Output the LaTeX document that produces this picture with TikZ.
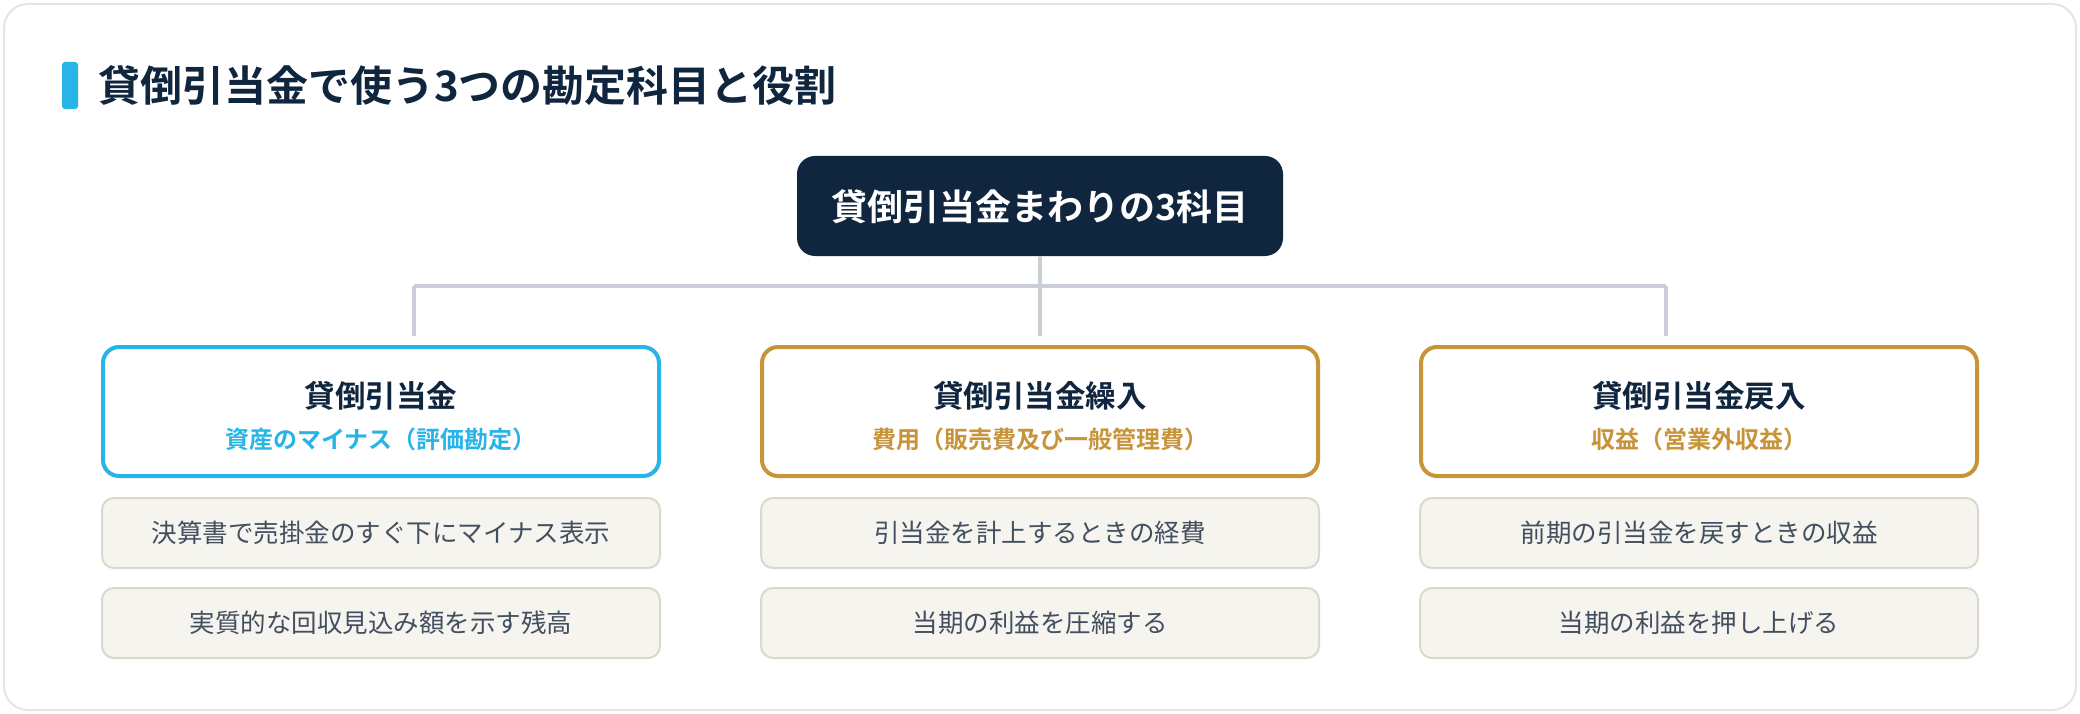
\documentclass[tikz,border=0pt]{standalone}
\usepackage{fontspec}
\setmainfont{Noto Sans CJK JP}[BoldFont={Noto Sans CJK JP Bold}]
\definecolor{navy}{HTML}{10263F}
\definecolor{sky}{HTML}{27B4E6}
\definecolor{gold}{HTML}{C8943A}
\definecolor{linkgray}{HTML}{C9CED8}
\definecolor{subfill}{HTML}{F5F4EF}
\definecolor{subline}{HTML}{DDD9CA}
\definecolor{subtext}{HTML}{434F5E}
\definecolor{cardline}{HTML}{E7E4D9}
\begin{document}
\begin{tikzpicture}[
        x = 1pt, y = -1pt,
        every node/.style = {inner sep = 0pt},
        headbox/.style = {fill = navy, rounded corners = 18pt, minimum width = 486pt, minimum height = 100pt},
        mainbox/.style = {draw = #1, line width = 4pt, fill = white, rounded corners = 16pt, minimum width = 556pt, minimum height = 129pt},
        subbox/.style = {draw = subline, line width = 2pt, fill = subfill, rounded corners = 12pt, minimum width = 558pt, minimum height = 70pt},
        link/.style = {draw = linkgray, line width = 4pt},
        headtext/.style = {font = \bfseries\fontsize{36}{40}\selectfont, text = white, text height = 29pt, text depth = 2.5pt},
        maintext/.style = {font = \bfseries\fontsize{30.5}{34}\selectfont, text = navy, text height = 24.7pt, text depth = 2.1pt},
        roletext/.style = {font = \bfseries\fontsize{24}{28}\selectfont, text = #1, text height = 19.4pt, text depth = 1.7pt},
        subtxt/.style = {font = \fontsize{25.5}{30}\selectfont, text = subtext, text height = 20.6pt, text depth = 1.8pt}
    ]
        \useasboundingbox (0,0) rectangle (2080,714);
        \draw[draw = cardline, line width = 2pt, fill = white, rounded corners = 24pt] (4,4) rectangle (2076,710);
        % title
        \fill[sky, rounded corners = 3pt] (62,62) rectangle (78,109);
        \node[anchor = west, font = \bfseries\fontsize{42}{48}\selectfont, text = navy, text height = 34pt, text depth = 3pt] (title) at (98,86) {貸倒引当金で使う3つの勘定科目と役割};
        % top box
        \node[headbox] (top) at (1040,206) {};
        \node[headtext] (toptext) at (1040,207) {貸倒引当金まわりの3科目};
        % connectors
        \coordinate (hub) at (1040,286);
        \coordinate (l1) at (414,286);
        \coordinate (l3) at (1666,286);
        \coordinate (d1) at (414,336);
        \coordinate (d2) at (1040,336);
        \coordinate (d3) at (1666,336);
        \draw[link] (top.south) -- (hub);
        \draw[link] (l1) -- (l3);
        \draw[link] (l1) -- (d1);
        \draw[link] (hub) -- (d2);
        \draw[link] (l3) -- (d3);
        % three accounts
        \node[mainbox = sky] (allow) at (381,411.5) {};
        \node[maintext] (allowname) at (381,396) {貸倒引当金};
        \node[roletext = sky] (allowrole) at (381,440) {資産のマイナス（評価勘定）};
        \node[mainbox = gold] (charge) at (1040,411.5) {};
        \node[maintext] (chargename) at (1040,396) {貸倒引当金繰入};
        \node[roletext = gold] (chargerole) at (1040,440) {費用（販売費及び一般管理費）};
        \node[mainbox = gold] (revers) at (1699,411.5) {};
        \node[maintext] (reversname) at (1699,396) {貸倒引当金戻入};
        \node[roletext = gold] (reversrole) at (1699,440) {収益（営業外収益）};
        % notes
        \node[subbox, subtxt] (allowa) at (381,533) {決算書で売掛金のすぐ下にマイナス表示};
        \node[subbox, subtxt] (allowb) at (381,623) {実質的な回収見込み額を示す残高};
        \node[subbox, subtxt] (chargea) at (1040,533) {引当金を計上するときの経費};
        \node[subbox, subtxt] (chargeb) at (1040,623) {当期の利益を圧縮する};
        \node[subbox, subtxt] (reversa) at (1699,533) {前期の引当金を戻すときの収益};
        \node[subbox, subtxt] (reversb) at (1699,623) {当期の利益を押し上げる};
    \end{tikzpicture}
\end{document}
